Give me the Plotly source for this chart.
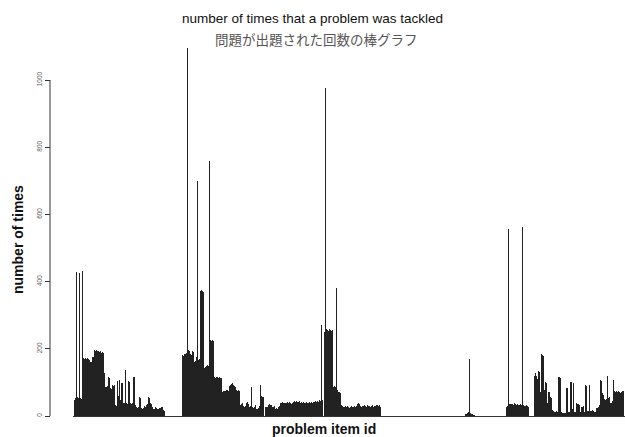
import plotly.graph_objects as go

# Counts per problem item; each block lists consecutive item ids starting at the given id.
# Item ids that are not listed were never tackled (count 0).
block_a_start = 2
block_a = [
    48, 55, 428, 57, 55, 426, 53, 50, 432, 172,
    170, 173, 171, 172, 170, 167, 162, 160, 177, 176,
    196, 194, 197, 192, 193, 191, 193, 188, 191, 189,
    128, 87, 85, 88, 116, 114, 83, 80, 92, 90,
    93, 33, 30, 104, 60, 106, 48, 99, 97, 40,
    38, 137, 38, 35, 104, 100, 38, 35, 40, 117,
    115, 33, 27, 25, 28, 57, 55, 24, 22, 25,
    30, 28, 33, 36, 57, 55, 40, 35, 27, 21,
    20, 27, 25, 21, 22, 24, 23, 27, 26, 18,
    15,
]

block_b_start = 110
block_b = [
    181, 180, 184, 186, 188, 1095, 196, 194, 184, 182,
    193, 190, 162, 165, 175, 700, 167, 170, 372, 374,
    373, 370, 143, 145, 149, 151, 148, 760, 226, 224,
    227, 222, 116, 114, 117, 115, 113, 116, 114, 112,
    72, 74, 75, 73, 76, 78, 74, 88, 92, 95,
    97, 93, 88, 85, 76, 74, 77, 73, 33, 36,
    38, 30, 28, 31, 39, 41, 37, 27, 29, 86,
    27, 25, 28, 33, 21, 22, 24, 30, 92, 60,
    58, 56, 0, 27, 26, 28, 33, 35, 32, 34,
    27, 26, 29, 21, 23, 20, 27, 30, 38, 40,
    42, 40, 39, 40, 38, 41, 39, 42, 40, 37,
    39, 43, 45, 42, 44, 41, 43, 46, 40, 41,
    39, 42, 40, 38, 41, 39, 40, 42, 39, 41,
    40, 43, 42, 44, 43, 45, 42, 48, 46, 271,
    47, 0, 250, 976, 258, 257, 252, 258, 255, 253,
    256, 87, 90, 85, 380, 77, 72, 72, 68, 33,
    31, 28, 26, 29, 27, 30, 28, 25, 27, 29,
    26, 28, 30, 27, 29, 36, 38, 35, 30, 28,
    31, 29, 33, 30, 28, 32, 29, 31, 27, 30,
    33, 28, 31, 29, 32, 33, 31, 34, 28,
]

block_c_start = 393
block_c = [3, 6, 8, 13, 171, 10, 6, 3, 2, 1]

block_d_start = 434
block_d = [
    28, 30, 556, 36, 35, 37, 36, 34, 38, 35,
    33, 36, 34, 32, 35, 33, 563, 34, 31, 30,
    32, 29, 28,
]

block_e_start = 462
block_e = [
    120, 127, 119, 110, 135, 132, 72, 185, 183, 180,
    77, 102, 98, 38, 72, 70, 57, 55, 18, 15,
    13, 12, 14, 11, 115, 117, 113, 13, 9, 8,
    10, 10, 84, 82, 13, 12, 102, 100, 20, 98,
    13, 12, 39, 36, 35, 33, 13, 28, 26, 30,
    12, 92, 90, 15, 14, 93, 16, 14, 17, 15,
    13, 12, 23, 25, 28, 33, 107, 104, 67, 64,
    50, 48, 52, 119, 55, 57, 40, 38, 45, 107,
    75, 72, 73, 70, 74, 71, 68, 70, 75, 73,
]

n_items = 552
y_ticks = [0, 200, 400, 600, 800, 1000]

blocks = [
    (block_a_start, block_a),
    (block_b_start, block_b),
    (block_c_start, block_c),
    (block_d_start, block_d),
    (block_e_start, block_e),
]
item_ids, counts = [], []
for start, values in blocks:
    item_ids.extend(range(start, start + len(values)))
    counts.extend(values)

W, H = 625, 437
L, R, T, B = 50, 0, 43, 18
PW, PH = W - L - R, H - T - B


def px_x(px):
    return (px - L) / PW


def px_y(py):
    return (H - B - py) / PH


px_per_unit = 0.336
y_lo = -(H - B - 416) / px_per_unit
y_hi = (416 - T) / px_per_unit

fig = go.Figure(
    go.Bar(
        x=item_ids,
        y=counts,
        width=1.0,
        marker=dict(color="#222222", line=dict(width=0)),
        hoverinfo="x+y",
    )
)

fig.update_layout(
    width=W,
    height=H,
    margin=dict(l=L, r=R, t=T, b=B, pad=0),
    paper_bgcolor="white",
    plot_bgcolor="white",
    showlegend=False,
    bargap=0,
    font=dict(family="Liberation Sans, Arial, sans-serif", color="#222222"),
    xaxis=dict(
        domain=[px_x(73), 1],
        range=[0.5, n_items + 0.5],
        showgrid=False,
        zeroline=False,
        showline=False,
        ticks="",
        showticklabels=False,
        fixedrange=True,
    ),
    yaxis=dict(
        anchor="free",
        position=0,
        range=[y_lo, y_hi],
        tickvals=y_ticks,
        ticktext=[str(v) for v in y_ticks],
        ticks="outside",
        ticklen=5,
        tickwidth=1,
        tickcolor="#333333",
        tickangle=-90,
        tickfont=dict(size=6.5, color="#555555"),
        showgrid=False,
        showline=False,
        zeroline=True,
        zerolinecolor="#333333",
        zerolinewidth=1,
        fixedrange=True,
    ),
    shapes=[
        dict(
            type="line",
            xref="paper",
            yref="y",
            x0=0,
            x1=0,
            y0=0,
            y1=1000,
            line=dict(color="#333333", width=1),
        )
    ],
    annotations=[
        dict(
            text="number of times that a problem was tackled",
            xref="paper", yref="paper",
            x=px_x(312), y=px_y(18),
            xanchor="center", yanchor="middle",
            showarrow=False,
            font=dict(size=13.5, color="#111111"),
        ),
        dict(
            text="問題が出題された回数の棒グラフ",
            xref="paper", yref="paper",
            x=px_x(316), y=px_y(39),
            xanchor="center", yanchor="middle",
            showarrow=False,
            font=dict(size=13.5, color="#555555",
                      family="Noto Sans CJK JP, Noto Sans CJK SC, sans-serif"),
        ),
        dict(
            text="<b>problem item id</b>",
            xref="paper", yref="paper",
            x=px_x(324), y=px_y(429),
            xanchor="center", yanchor="middle",
            showarrow=False,
            font=dict(size=14, color="#111111"),
        ),
        dict(
            text="<b>number of times</b>",
            xref="paper", yref="paper",
            x=px_x(18), y=px_y(240),
            xanchor="center", yanchor="middle",
            textangle=-90,
            showarrow=False,
            font=dict(size=14, color="#111111"),
        ),
    ],
)

fig.write_html("out.html")
